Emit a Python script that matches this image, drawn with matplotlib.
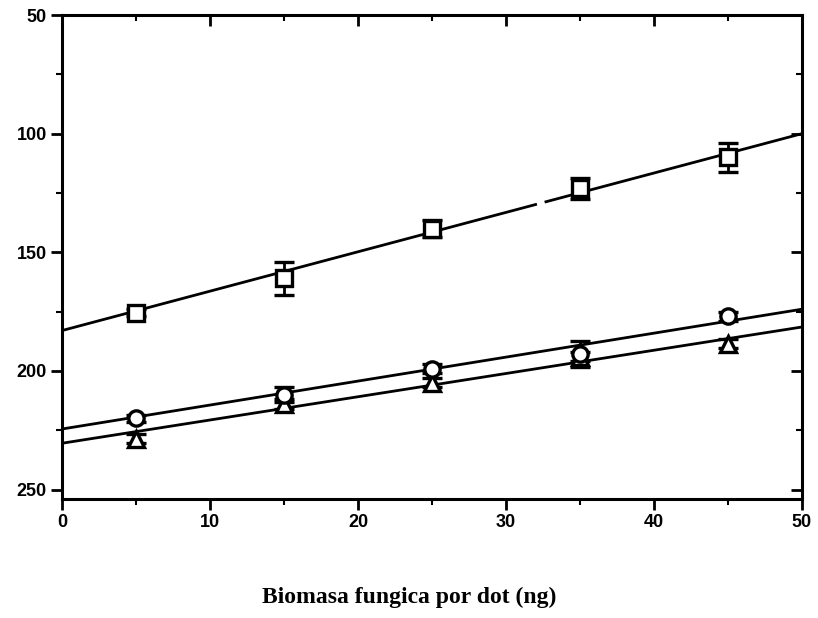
import numpy as np
import matplotlib.pyplot as plt
from matplotlib.ticker import MultipleLocator

# values
x = [5, 15, 25, 35, 45]

square_y = [175.5, 161, 140, 123, 110]
square_err = [1.5, 7, 3.5, 4.5, 6]

circle_y = [220, 210, 199, 193, 177]
circle_err = [1.5, 3, 2, 5.5, 2]

triangle_y = [228.5, 214, 205, 194, 188.5]
triangle_err = [2, 2, 2, 2, 2]

# fitted lines, value at x=0 and at x=50
line_x = [0, 50]
square_line = [183, 100]
circle_line = [224.5, 174]
triangle_line = [230.5, 181.5]

# small break in the upper line (scan artefact)
square_gap = [32.0, 32.7]

tick_font = ['Liberation Sans Narrow', 'Liberation Sans', 'DejaVu Sans']


def draw_series(ax, ys, errs, marker, size):
    ax.errorbar(
        x, ys, yerr=errs,
        fmt=marker,
        markersize=size,
        markerfacecolor="white",
        markeredgecolor="black",
        markeredgewidth=2.4,
        ecolor="black",
        elinewidth=2,
        capsize=7,
        capthick=2.5,
        zorder=3
    )


def main():
    fig = plt.figure(figsize=(8.18, 6.18), dpi=100)
    ax = fig.add_axes([62 / 818, 1 - 499 / 618, 740 / 818, 484 / 618])

    # upper line drawn in two pieces around the gap
    slope = (square_line[1] - square_line[0]) / (line_x[1] - line_x[0])
    seg1 = [line_x[0], square_gap[0]]
    seg2 = [square_gap[1], line_x[1]]
    ax.plot(seg1, [square_line[0] + slope * v for v in seg1], color="black", lw=2)
    ax.plot(seg2, [square_line[0] + slope * v for v in seg2], color="black", lw=2)

    ax.plot(line_x, circle_line, color="black", lw=2)
    ax.plot(line_x, triangle_line, color="black", lw=2)

    draw_series(ax, square_y, square_err, "s", 11)
    draw_series(ax, triangle_y, triangle_err, "^", 11)
    draw_series(ax, circle_y, circle_err, "o", 11)

    ax.set_xlim(0, 50)
    ax.set_ylim(254, 50)

    ax.xaxis.set_major_locator(MultipleLocator(10))
    ax.xaxis.set_minor_locator(MultipleLocator(5))
    ax.yaxis.set_major_locator(MultipleLocator(50))
    ax.yaxis.set_minor_locator(MultipleLocator(25))

    for spine in ax.spines.values():
        spine.set_linewidth(2.2)

    ax.tick_params(axis="both", which="major", direction="out", length=8,
                   width=2, pad=3)
    ax.tick_params(axis="both", which="minor", direction="out", length=4,
                   width=1.5)
    ax.tick_params(axis="both", which="both", right=True, top=True)

    for lab in ax.get_xticklabels() + ax.get_yticklabels():
        lab.set_family(tick_font)
        lab.set_fontweight("bold")
        lab.set_fontsize(13)

    # right and top ticks point inwards
    for t in ax.yaxis.get_major_ticks() + ax.yaxis.get_minor_ticks():
        t.tick2line.set_marker(0)
    for t in ax.xaxis.get_major_ticks() + ax.xaxis.get_minor_ticks():
        t.tick2line.set_marker(3)

    fig.text(
        0.5, 1 - 597 / 618,
        "Biomasa fungica por dot (ng)",
        ha="center", va="center",
        family=['Liberation Serif', 'DejaVu Serif'],
        fontweight="bold", fontsize=17
    )

    fig.savefig("out.png", dpi=100)


if __name__ == "__main__":
    main()
